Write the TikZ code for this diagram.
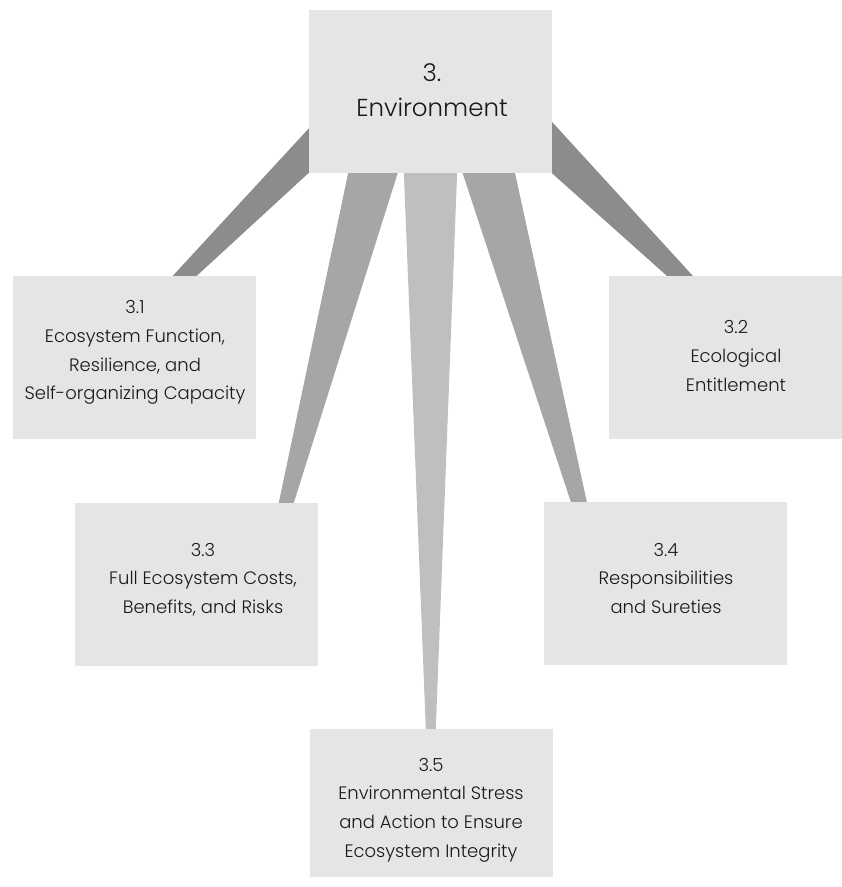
\documentclass[tikz,border=0pt]{standalone}
\usepackage{fontspec}
\setmainfont{Poppins Light}
\usetikzlibrary{calc}
\pgfdeclarelayer{background}
\pgfsetlayers{background,main}
\definecolor{boxgray}{HTML}{E5E5E5}
\definecolor{wedgedark}{HTML}{8C8C8C}
\definecolor{wedgemid}{HTML}{A6A6A6}
\definecolor{wedgelight}{HTML}{BFBFBF}
\definecolor{txt}{HTML}{1A1A1A}
\tikzset{
  topicbox/.style={fill=boxgray, draw=none, inner sep=0pt, minimum width=243pt, minimum height=163pt},
  boxtext/.style={align=center, text=txt, inner sep=0pt, font=\fontsize{18}{28.7}\selectfont},
  toptext/.style={align=center, text=txt, inner sep=0pt, font=\fontsize{24.5}{35}\selectfont},
  wdark/.style={fill=wedgedark, draw=none},
  wmid/.style={fill=wedgemid, draw=none},
  wlight/.style={fill=wedgelight, draw=none}
}
\begin{document}
\begin{tikzpicture}[x=1pt,y=-1pt]
\clip (0,0) rectangle (842,887);
% boxes
\node[topicbox] (top) at (430.5,91.5) {};
\node[topicbox] (b31) at (134.5,357.5) {};
\node[topicbox] (b32) at (730.5,357.5) {};
\node[topicbox] (b33) at (196.5,584.5) {};
\node[topicbox] (b34) at (665.5,583.5) {};
\node[topicbox, minimum height=148pt] (b35) at (431.5,803) {};
% texts
\node[toptext] (ttop) at (432,90.5) {3.\\Environment};
\node[boxtext] (t31) at (135,352.5) {3.1\\Ecosystem Function,\\Resilience, and\\Self-organizing Capacity};
\node[boxtext] (t32) at (736,356) {3.2\\Ecological\\Entitlement};
\node[boxtext] (t33) at (203,579.5) {3.3\\Full Ecosystem Costs,\\Benefits, and Risks};
\node[boxtext] (t34) at (666,578.5) {3.4\\Responsibilities\\and Sureties};
\node[boxtext] (t35) at (431,810) {3.5\\Environmental Stress\\and Action to Ensure\\Ecosystem Integrity};
% tapered connectors
\begin{pgfonlayer}{background}
\fill[wdark] ($(b31.north west)+(160,0)$) -- ($(b31.north west)+(184,0)$)
  -- ($(top.center)+(-42.5,8.5)$) -- ($(top.center)+(-95.5,8.5)$) -- cycle;
\fill[wdark] ($(b32.north west)+(58,0)$) -- ($(b32.north west)+(84,0)$)
  -- ($(top.center)+(101.5,8.5)$) -- ($(top.center)+(39.5,8.5)$) -- cycle;
\fill[wmid] ($(b33.north west)+(204,0)$) -- ($(b33.north west)+(219,0)$)
  -- ($(top.center)+(-25.5,58.5)$) -- ($(top.center)+(-77.5,58.5)$) -- cycle;
\fill[wmid] ($(b34.north west)+(27,0)$) -- ($(b34.north west)+(43,0)$)
  -- ($(top.center)+(79.5,58.5)$) -- ($(top.center)+(24.5,58.5)$) -- cycle;
\fill[wlight] ($(b35.north west)+(116,0)$) -- ($(b35.north west)+(126,0)$)
  -- ($(top.center)+(27.5,58.5)$) -- ($(top.center)+(-27.5,58.5)$) -- cycle;
\end{pgfonlayer}
\end{tikzpicture}
\end{document}
